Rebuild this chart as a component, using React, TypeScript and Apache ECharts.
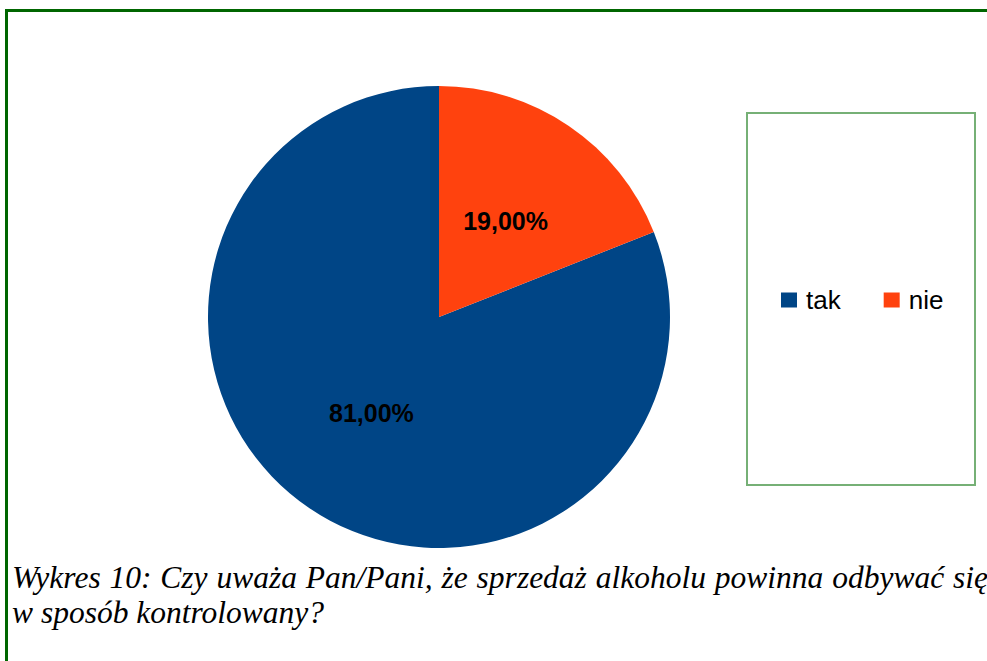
import React, { useEffect, useRef } from "react";
import * as echarts from "echarts";

const categories = ["tak", "nie"];
const values = [81, 19];
const colors = ["#004586", "#ff420e"];
const labelOffsets = [[-1, -2], [0, 2.5]];
const captionLines = [
  "Wykres 10: Czy uważa Pan/Pani, że sprzedaż alkoholu powinna odbywać się",
  "w sposób kontrolowany?",
];

const CAPTION_SIZE = 31.5;

function buildCaption(): any[] {
  const ctx = document.createElement("canvas").getContext("2d")!;
  ctx.font = `italic ${CAPTION_SIZE}px 'Liberation Serif'`;
  const out: any[] = [];
  const left = 12;
  const justifyRight = 988;
  captionLines.forEach((line, li) => {
    const baseline = 588 + li * 35;
    const words = line.split(" ");
    const widths = words.map((w) => ctx.measureText(w).width);
    const spaceW = ctx.measureText(" ").width;
    const total = widths.reduce((a, b) => a + b, 0);
    const isLast = li === captionLines.length - 1;
    const gap = isLast
      ? spaceW
      : Math.max(spaceW, (justifyRight - left - total) / Math.max(1, words.length - 1));
    let x = left;
    words.forEach((w, wi) => {
      out.push({
        type: "text",
        x,
        y: baseline - CAPTION_SIZE * 0.34,
        silent: true,
        style: {
          text: w,
          fill: "#000000",
          fontFamily: "Liberation Serif",
          fontStyle: "italic",
          fontSize: CAPTION_SIZE,
          verticalAlign: "middle",
        },
      });
      x += widths[wi] + gap;
    });
  });
  return out;
}

export default function App() {
  const ref = useRef<HTMLDivElement>(null);
  useEffect(() => {
    document.body.style.margin = "0";
    if (!ref.current) return;
    const chart = echarts.init(ref.current, null, { renderer: "svg" });
    chart.setOption({
      animation: false,
      backgroundColor: "#ffffff",
      legend: {
        data: categories,
        orient: "horizontal",
        left: 781,
        top: 287,
        padding: 0,
        icon: "rect",
        itemWidth: 16,
        itemHeight: 15,
        itemGap: 43,
        textStyle: {
          fontFamily: "Liberation Sans",
          fontSize: 26,
          color: "#000000",
          padding: [0, 0, 0, 4],
        },
        selectedMode: false,
      },
      series: [
        {
          type: "pie",
          center: [439, 317],
          radius: [0, 231],
          startAngle: 90 - (values[1] / (values[0] + values[1])) * 360,
          clockwise: true,
          avoidLabelOverlap: false,
          label: {
            show: true,
            position: "inside",
            formatter: (p: any) => p.value.toFixed(2).replace(".", ",") + "%",
            fontFamily: "Liberation Sans",
            fontWeight: "bold",
            fontSize: 25,
            color: "#000000",
          },
          labelLine: { show: false },
          emphasis: { disabled: true },
          data: categories.map((c, i) => ({
            name: c,
            value: values[i],
            itemStyle: { color: colors[i] },
            label: { offset: labelOffsets[i] },
          })),
        },
      ],
      graphic: [
        {
          type: "rect",
          shape: { x: 5, y: 9, width: 990, height: 3 },
          style: { fill: "#006600" },
        },
        {
          type: "rect",
          shape: { x: 5, y: 9, width: 3, height: 660 },
          style: { fill: "#006600" },
        },
        {
          type: "rect",
          shape: { x: 747, y: 113, width: 228, height: 372 },
          style: { fill: "none", stroke: "#76b076", lineWidth: 2 },
        },
        ...buildCaption(),
      ],
    });
    return () => chart.dispose();
  }, []);
  return (
    <div
      ref={ref}
      style={{ position: "absolute", left: 0, top: 0, width: 987, height: 661 }}
    />
  );
}
